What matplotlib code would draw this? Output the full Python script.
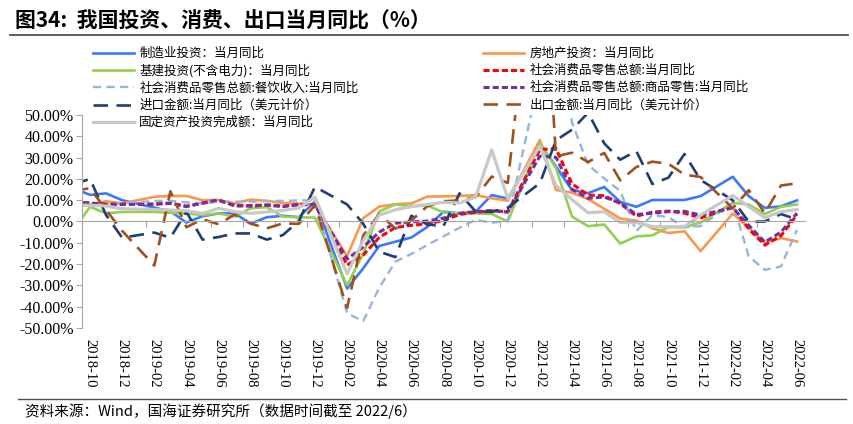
import numpy as np
import pandas as pd
import matplotlib
matplotlib.use("Agg")
import matplotlib.pyplot as plt
from matplotlib.lines import Line2D

plt.rcParams['font.family'] = ['Noto Sans CJK SC', 'DejaVu Sans']

nan = np.nan

# months 2018-09 .. 2022-06 (the first one sits just left of the axis)
months = pd.date_range("2018-09-01", periods=46, freq="MS").strftime("%Y-%m").tolist()

# --------------------------------------------------------------------------- #
# monthly yoy, %  (January values are empty: Jan-Feb reported together)
mfg = [15.5, 12.5, 13.2, 10.0, nan, 6.5, 4.8, -0.5, 2.5, 3.8, 3.8, -1.0, 2.0, 2.7, 2.0, 9.4,
       nan, -31.5, -22.0, -11.5, -9.5, -7.5, -2.5, 4.6, 3.8, 4.6, 12.4, 10.8,
       nan, 36.5, 25.8, 14.7, 13.3, 16.2, 9.2, 6.9, 10.1, 10.1, 10.1, 11.9,
       nan, 21.0, 11.9, 6.4, 7.1, 9.9]
real_estate = [7.5, 8.0, 9.5, 8.5, nan, 11.6, 12.0, 12.0, 10.0, 10.1, 8.5, 10.3, 9.7, 8.7, 8.4, 7.9,
               nan, -16.3, 1.5, 7.0, 8.1, 8.5, 11.7, 11.8, 12.0, 12.4, 10.9, 9.8,
               nan, 38.3, 14.8, 13.5, 10.5, 6.0, 1.4, 0.4, -3.2, -5.4, -4.6, -13.9,
               nan, 3.7, -3.0, -10.1, -7.8, -9.4]
infra = [-3.5, 6.9, 3.8, 4.5, nan, 4.5, 4.1, 3.8, 3.0, 3.8, 2.3, 6.2, 6.7, 2.3, 2.0, 1.8,
         nan, -30.0, -15.0, 4.7, 8.0, 7.2, 7.5, 4.2, 3.8, 3.8, 3.5, 0.0,
         nan, 37.0, 25.0, 2.3, -2.2, -1.4, -10.4, -7.0, -6.5, -2.6, -2.8, -0.5,
         nan, 8.8, 8.0, 3.5, 6.9, 8.0]
retail = [9.2, 8.6, 8.1, 8.2, nan, 8.2, 8.7, 7.2, 8.6, 9.8, 7.6, 7.5, 7.8, 7.2, 8.0, 8.0,
          nan, -20.5, -15.8, -7.5, -2.8, -1.8, -1.1, 0.5, 3.3, 4.3, 5.0, 4.6,
          nan, 33.8, 34.2, 17.7, 12.4, 12.1, 8.5, 2.5, 4.4, 4.9, 3.9, 1.7,
          nan, 6.7, -3.5, -11.1, -6.7, 3.1]
catering = [8.5, 7.8, 8.0, 8.5, nan, 9.7, 9.7, 9.0, 8.5, 9.3, 9.3, 9.3, 9.6, 9.7, 9.9, 10.0,
            nan, -43.1, -46.8, -31.1, -18.9, -15.2, -11.0, -7.0, -2.9, 0.8, -0.6, 0.4,
            nan, 68.9, 91.6, 46.4, 26.6, 20.2, 14.3, -4.5, 3.1, 2.0, -2.7, -2.2,
            nan, 8.9, -16.4, -22.7, -21.1, -4.0]
goods = [9.0, 8.7, 8.0, 8.0, nan, 8.1, 8.5, 7.0, 8.7, 10.2, 7.3, 7.2, 7.7, 7.0, 7.9, 7.9,
         nan, -17.6, -12.0, -5.0, -0.8, -0.2, 0.2, 1.6, 3.9, 4.6, 5.2, 4.4,
         nan, 30.7, 30.1, 15.1, 10.9, 11.5, 8.7, 3.3, 3.9, 4.6, 4.8, 3.0,
         nan, 6.5, -1.8, -9.7, -5.0, 3.9]
imports = [17.5, 20.0, 3.0, -7.6, nan, -5.2, -7.6, 4.5, -8.5, -7.3, -5.6, -5.6, -8.5, -6.4, 0.3, 16.3,
           nan, 8.0, -1.0, -14.2, -16.7, 2.7, -1.4, -2.1, 13.2, 4.7, 4.5, 6.5,
           nan, 18.0, 38.1, 43.1, 51.1, 36.7, 29.0, 33.1, 17.6, 20.6, 31.7, 19.5,
           nan, 10.0, -0.1, 0.0, 3.5, 1.0]
exports = [14.5, 15.6, 5.4, -4.4, nan, -20.7, 14.2, -2.7, 1.1, -1.3, 3.3, -1.0, -3.2, -0.9, -1.1, 7.6,
           nan, -40.6, -6.6, 3.5, -3.3, 0.5, 7.2, 9.5, 9.9, 11.4, 21.1, 18.1,
           nan, 154.9, 30.6, 32.3, 27.9, 32.2, 19.3, 25.6, 28.1, 27.1, 22.0, 20.9,
           nan, 6.2, 14.7, 3.9, 16.9, 17.9]
fai = [7.8, 7.6, 7.3, 6.0, nan, 5.6, 5.4, 5.0, 3.8, 6.2, 4.6, 3.8, 4.5, 5.2, 6.3, 11.5,
       nan, -24.5, -9.0, 3.0, 5.5, 7.0, 8.0, 9.0, 8.7, 11.5, 33.6, 10.9,
       nan, 35.4, 17.0, 10.2, 4.1, 4.6, -0.5, -0.5, -2.4, -2.5, -2.4, 3.0,
       nan, 12.2, 7.0, 1.8, 4.6, 5.6]

series = [
    ("制造业投资：当月同比", mfg, "#3C78FF", "-", None, 1.9),
    ("房地产投资：当月同比", real_estate, "#F9974C", "-", None, 1.9),
    ("基建投资(不含电力)：当月同比", infra, "#92D050", "-", None, 1.9),
    ("社会消费品零售总额:当月同比", retail, "#FF0000", "--", (2, 1), 2.2),
    ("社会消费品零售总额:餐饮收入:当月同比", catering, "#95B6DB", "--", (3.5, 2.2), 1.7),
    ("社会消费品零售总额:商品零售:当月同比", goods, "#7030A0", "--", (2, 1), 2.2),
    ("进口金额:当月同比（美元计价）", imports, "#1F3F73", "--", (5.5, 3.2), 1.9),
    ("出口金额:当月同比（美元计价）", exports, "#A0501A", "--", (5.5, 3.2), 1.9),
    ("固定资产投资完成额：当月同比", fai, "#C8C8C8", "-", None, 2.3),
]

axis_gray = "#A6A6A6"

# --------------------------------------------------------------------------- #
fig = plt.figure(figsize=(8.54, 4.24), dpi=100)
ax = fig.add_axes([82/854, 96/424, 723/854, 213/424])

x = np.arange(-1, len(months) - 1)
handles = {}
for name, vals, color, ls, dashes, lw in series:
    y = np.array(vals, dtype=float)
    m = ~np.isnan(y)
    line, = ax.plot(x[m], y[m], color=color, lw=lw, ls=ls)
    if dashes is not None:
        line.set_dashes(dashes)
    handles[name] = line

ax.set_xlim(-0.5, len(months) - 1.5)
ax.set_ylim(-50, 50)

yt = np.arange(-50, 51, 10)
ax.set_yticks(yt, labels=[f"{v:.2f}%" for v in yt])
ax.tick_params(axis="y", direction="out", length=4, color=axis_gray, pad=2,
               labelsize=11.5, labelfontfamily="Liberation Serif")

for s in ["top", "right"]:
    ax.spines[s].set_visible(False)
ax.spines["left"].set_color(axis_gray)
ax.spines["bottom"].set_position(("data", 0))
ax.spines["bottom"].set_color(axis_gray)
ax.set_xticks(np.arange(-0.5, len(months) - 1, 2))
ax.tick_params(axis="x", direction="out", length=4, color=axis_gray, labelbottom=False)

secax = ax.secondary_xaxis("bottom")
secax.set_xticks(np.arange(0, len(months) - 1, 2), labels=months[1::2])
secax.tick_params(length=0, pad=8, labelrotation=270, labelsize=10.5,
                  labelfontfamily="Liberation Serif")
secax.spines["bottom"].set_visible(False)

# legends, two columns
col1 = ["制造业投资：当月同比", "基建投资(不含电力)：当月同比", "社会消费品零售总额:餐饮收入:当月同比",
        "进口金额:当月同比（美元计价）", "固定资产投资完成额：当月同比"]
col2 = ["房地产投资：当月同比", "社会消费品零售总额:当月同比", "社会消费品零售总额:商品零售:当月同比",
        "出口金额:当月同比（美元计价）"]
for names, x0 in [(col1, 93), (col2, 483)]:
    fig.legend([handles[n] for n in names], names, loc="upper left",
               bbox_to_anchor=(x0/854, 1 - 47/424), frameon=False, fontsize=9,
               handlelength=3.3, handletextpad=0.4, labelspacing=0.33,
               borderpad=0, borderaxespad=0)

fig.text(15/854, 1 - 21/424, "图34:  我国投资、消费、出口当月同比（%）", fontsize=15,
         fontweight="bold", va="center", ha="left")
fig.add_artist(Line2D([10/854, 848/854], [1 - 35/424] * 2, color="#505050", lw=1.3))
fig.add_artist(Line2D([18/854, 846/854], [1 - 399/424] * 2, color="#505050", lw=1.0))
fig.text(25/854, 1 - 411/424, "资料来源：Wind，国海证券研究所（数据时间截至 2022/6）",
         fontsize=10.5, va="center", ha="left")

fig.savefig("out.png", dpi=100)
